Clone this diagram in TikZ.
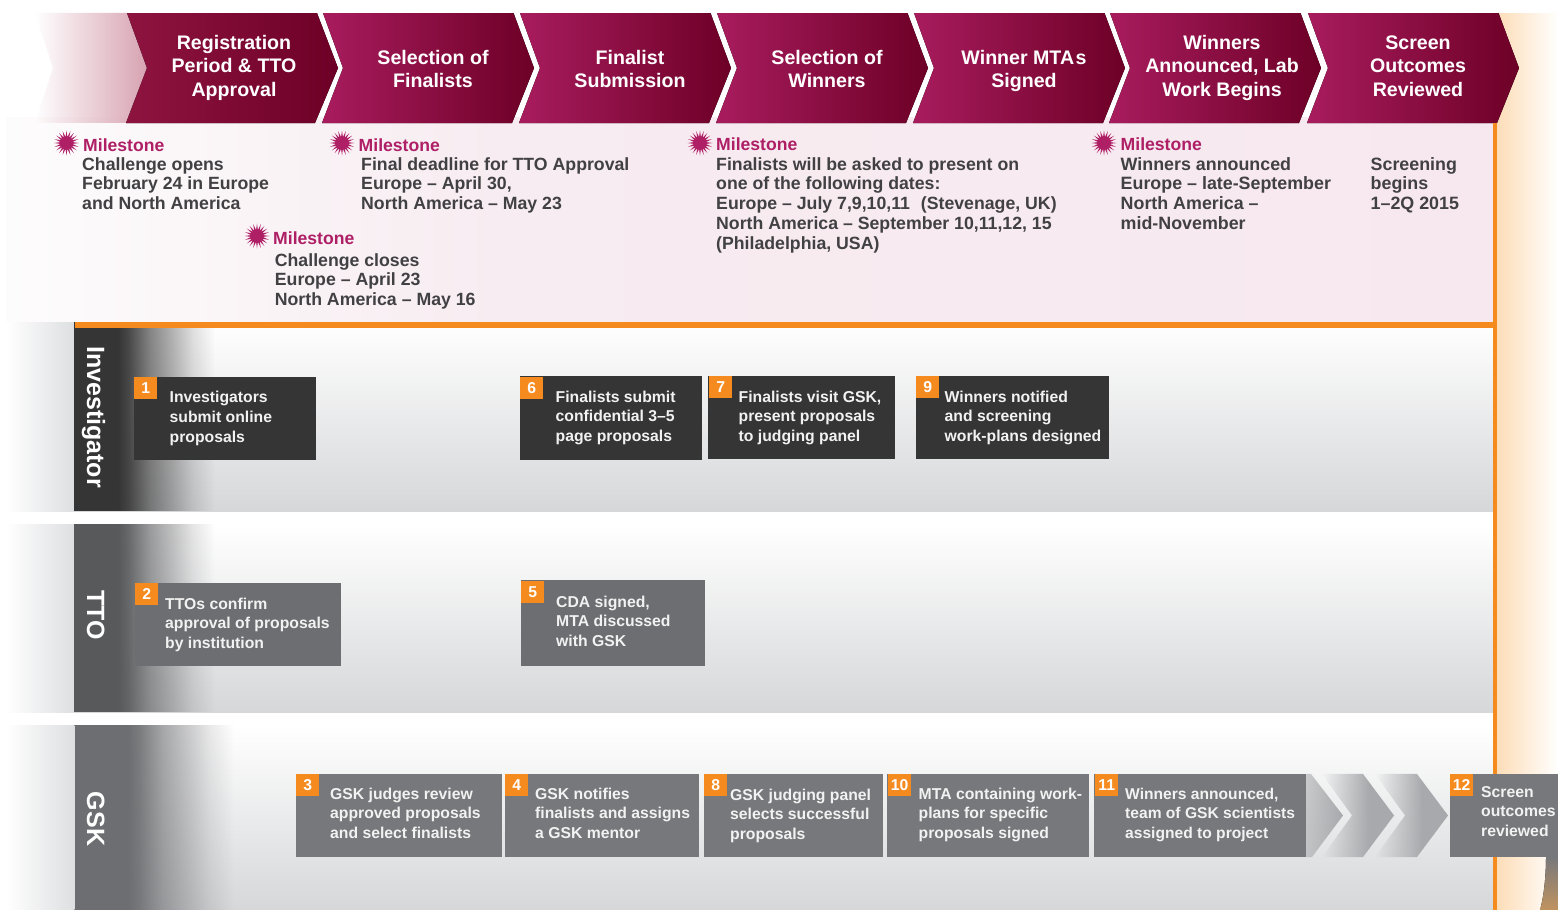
\documentclass[tikz,border=0pt]{standalone}
\usepackage{fontspec}
\setmainfont{Liberation Sans}
\usetikzlibrary{shapes.geometric,fadings}
\definecolor{mag}{HTML}{A81C5E}
\definecolor{mile}{HTML}{AE1F66}
\definecolor{wine}{HTML}{6D0026}
\definecolor{wineA}{HTML}{8E1440}
\definecolor{pinkband}{HTML}{F7E8EF}
\definecolor{pinkstart}{HTML}{FDFCFC}
\definecolor{pinkmid}{HTML}{F7ECF1}
\definecolor{fadechev}{HTML}{D8A3B2}
\definecolor{orng}{HTML}{F58A1F}
\definecolor{ink}{HTML}{414042}
\definecolor{dkA}{HTML}{353535}
\definecolor{dkB}{HTML}{58595B}
\definecolor{dkC}{HTML}{6D6E71}
\definecolor{boxB}{HTML}{6D6E71}
\definecolor{boxC}{HTML}{77787B}
\definecolor{stripe}{HTML}{DEDFE1}
\definecolor{rowlow}{HTML}{D6D7D9}
\definecolor{peach}{HTML}{FDDDB8}
\definecolor{arrowg}{HTML}{A7A9AC}
\definecolor{tan}{HTML}{C0935F}
\pgfdeclarehorizontalshading{rampshade}{100bp}{color(0bp)=(pgftransparent!0); color(25bp)=(pgftransparent!0); color(30bp)=(pgftransparent!10); color(40bp)=(pgftransparent!40); color(50bp)=(pgftransparent!62); color(60bp)=(pgftransparent!85); color(70bp)=(pgftransparent!100); color(100bp)=(pgftransparent!100)}
\pgfdeclarefading{bandfade}{\pgfuseshading{rampshade}}
\pgfdeclarehorizontalshading{rampB}{100bp}{color(0bp)=(pgftransparent!100); color(25bp)=(pgftransparent!100); color(57.5bp)=(pgftransparent!0); color(100bp)=(pgftransparent!0)}
\pgfdeclarefading{arrowfade}{\pgfuseshading{rampB}}
\pgfdeclarehorizontalshading{rampC}{100bp}{color(0bp)=(pgftransparent!100); color(25bp)=(pgftransparent!100); color(75bp)=(pgftransparent!0); color(100bp)=(pgftransparent!0)}
\pgfdeclarefading{chevfade}{\pgfuseshading{rampC}}
\pgfdeclarehorizontalshading{rampD}{100bp}{color(0bp)=(pgftransparent!45); color(25bp)=(pgftransparent!45); color(75bp)=(pgftransparent!0); color(100bp)=(pgftransparent!0)}
\pgfdeclarefading{firstfade}{\pgfuseshading{rampD}}
\tikzset{
  chev/.style={left color=mag,right color=wine,middle color=mag!50!wine,draw=none},
  chevtext/.style={text=white,font=\fontsize{19.6}{23.5}\selectfont\bfseries,align=center,inner sep=0pt,anchor=north,yshift=18pt},
  msT/.style={text=mile,font=\fontsize{17.6}{19.8}\selectfont\bfseries,anchor=base west,inner sep=0pt},
  msB/.style={text=ink,font=\fontsize{17.7}{19.7}\selectfont\bfseries,align=left,anchor=north west,inner sep=0pt,yshift=18pt},
  msBw/.style={msB,font=\fontsize{17.85}{19.7}\selectfont\bfseries},
  burst/.style={star,star points=20,star point ratio=2.1,fill=mile,draw=none,inner sep=0pt,minimum size=25pt,outer sep=0pt},
  boxt/.style={text=white!95!black,font=\fontsize{15.75}{19.7}\selectfont\bfseries,align=left,anchor=north west,inner sep=0pt,yshift=18pt},
  numsq/.style={fill=orng,text=white,font=\fontsize{15.75}{18}\selectfont\bfseries,inner sep=0pt,minimum width=23pt,minimum height=22pt,text height=11pt,text depth=1pt,anchor=north west},
  rowlabel/.style={text=white,font=\fontsize{25}{28}\selectfont\bfseries,rotate=-90,anchor=base,inner sep=0pt},
  rowbase/.style={top color=white,middle color=white!95!rowlow,bottom color=rowlow,draw=none},
  leftstrip/.style={left color=white,right color=stripe,draw=none},
  bandf/.style={path fading=bandfade,fit fading=true},
  ga/.style={fill=arrowg,path fading=arrowfade,fit fading=true}
}
\newcommand{\FL}{\rule{0pt}{18pt}}
\begin{document}
\begin{tikzpicture}[x=1pt,y=-1pt]
\useasboundingbox (0,0) rectangle (1558,910);
\fill[white] (0,0) rectangle (1558,910);
% right peach
\fill[left color=peach,right color=white,draw=none] (1497,13) rectangle (1558,910);
\fill[top color=boxC,bottom color=tan] (1546,857) .. controls (1546,880) and (1543,900) .. (1540,910) -- (1558,910) -- (1558,857) -- cycle;
% pink band
\fill[left color=pinkstart,right color=pinkmid,draw=none] (6,117) rectangle (500,322);
\fill[left color=pinkmid,right color=pinkband,draw=none] (499.5,117) rectangle (1493,322);
% fade chevron
\fill[fadechev,path fading=chevfade,fit fading=true] (35,13) -- (127,13) -- (147,68) -- (126,123) -- (35,123) -- (53,68) -- cycle;
% chevrons
\fill[left color=wineA,right color=wine,draw=none] (127,13) -- (317,13) -- (338,68) -- (315,123) -- (126,123) -- (147,68) -- cycle;
\foreach \x in {323,520,717,914,1110,1308}{
  \fill[chev] (\x,13) -- ({\x+190.5},13) -- ({\x+211},68) -- ({\x+189},123) -- ({\x-1},123) -- ({\x+20},68) -- cycle;
}
\node[chevtext] (c1) at (234,49) {\FL Registration\\Period \& TTO\\Approval};
\node[chevtext] (c2) at (433,64) {\FL Selection of\\Finalists};
\node[chevtext] (c3) at (630,64) {\FL Finalist\\Submission};
\node[chevtext] (c4) at (827,64) {\FL Selection of\\Winners};
\node[chevtext] (c5) at (1024,64) {\FL Winner MTA\kern1.5pt s\\Signed};
\node[chevtext] (c6) at (1222,49) {\FL Winners\\Announced, Lab\\Work Begins};
\node[chevtext] (c7) at (1418,49) {\FL Screen\\Outcomes\\Reviewed};
% rows
\fill[leftstrip] (6,322) rectangle (74,511);
\fill[leftstrip] (6,524) rectangle (74,712);
\fill[leftstrip] (6,725) rectangle (74.5,910);
\fill[rowbase] (74,322) rectangle (1493,511);
\fill[rowbase] (74,524) rectangle (1493,712);
\fill[rowbase] (75,725) rectangle (1493,910);
\fill[dkA] (74,322) rectangle (118.5,511);
\fill[dkA,bandf] (118,322) rectangle (225,511);
\fill[dkB] (74,524) rectangle (118.5,712);
\fill[dkB,bandf] (118,524) rectangle (225,712);
\fill[dkC] (75,725) rectangle (128.5,910);
\fill[dkC,bandf] (128,725) rectangle (245,910);
% orange rules
\fill[orng] (75,322) rectangle (1497,327.5);
\fill[orng] (1493,123) rectangle (1497,910);
% row labels
\node[rowlabel] (rI) at (87,417) {Investigator};
\node[rowlabel] (rT) at (87,615) {TTO};
\node[rowlabel] (rG) at (87,819) {GSK};
% milestones
\node[burst] (s1) at (66.5,143) {};
\node[burst] (s2) at (342,143) {};
\node[burst] (s3) at (700,143) {};
\node[burst] (s4) at (1104,143) {};
\node[burst] (s5) at (257,236) {};
\node[msT] (m1) at (83,151) {Milestone};
\node[msT] (m2) at (358.5,151) {Milestone};
\node[msT] (m3) at (716,150) {Milestone};
\node[msT] (m4) at (1120.5,150) {Milestone};
\node[msT] (m5) at (273,244.2) {Milestone};
\node[msB] (t1) at (82,170) {\FL Challenge opens\\February 24 in Europe\\and North America};
\node[msB] (t2) at (361,170) {\FL Final deadline for TTO Approval\\Europe – April 30,\\North America – May 23};
\node[msB] (t3) at (716,170) {\FL Finalists will be asked to present on\\one of the following dates:\\Europe – July 7,9,10,11\hspace{6pt} (Stevenage, UK)\\North America – September 10,11,12, 15\\(Philadelphia, USA)};
\node[msBw] (t4) at (1120.5,170) {\FL Winners announced\\Europe – late-September\\North America –\\mid-November};
\node[msBw] (t5) at (1370.5,170) {\FL Screening\\begins\\1–2Q 2015};
\node[msB] (t6) at (274.7,266) {\FL Challenge closes\\Europe – April 23\\North America – May 16};
% grey arrows
\fill[arrowg,path fading=firstfade,fit fading=true] (1306,774) -- (1311,774) -- (1343,815.5) -- (1312,857) -- (1306,857) -- cycle;
\fill[ga] (1322,774) -- (1363,774) -- (1394,815.5) -- (1363,857) -- (1322,857) -- (1352,815.5) -- cycle;
\fill[ga] (1375,774) -- (1417,774) -- (1448,815.5) -- (1417,857) -- (1375,857) -- (1405,815.5) -- cycle;
% process boxes
\fill[dkA] (134,377) rectangle (316,460);
\fill[dkA] (520,376) rectangle (702,460);
\fill[dkA] (708,376) rectangle (895,459);
\fill[dkA] (916,376) rectangle (1109,459);
\fill[boxB] (135,583) rectangle (341,666);
\fill[boxB] (521,580) rectangle (705,666);
\fill[boxC] (296,774) rectangle (502,857);
\fill[boxC] (505,774) rectangle (699,857);
\fill[boxC] (704,774) rectangle (883,857);
\fill[boxC] (887,774) rectangle (1089,857);
\fill[boxC] (1094,774) rectangle (1306,857);
\fill[boxC] (1450,774) rectangle (1558,857);
% numbers
\node[numsq] (n1) at (134,377) {1};
\node[numsq] (n6) at (520,377) {6};
\node[numsq] (n7) at (709,376) {7};
\node[numsq] (n9) at (916,376) {9};
\node[numsq] (n2) at (135,583) {2};
\node[numsq] (n5) at (521,581) {5};
\node[numsq] (n3) at (296,774) {3};
\node[numsq] (n4) at (505,774) {4};
\node[numsq] (n8) at (704,774) {8};
\node[numsq] (n10) at (888,774) {10};
\node[numsq] (n11) at (1095,774) {11};
\node[numsq] (n12) at (1450,774) {12};
% texts
\node[boxt] (b1) at (169.5,402.7) {\FL Investigators\\submit online\\proposals};
\node[boxt] (b6) at (555.5,401.8) {\FL Finalists submit\\confidential 3–5\\page proposals};
\node[boxt] (b7) at (738.5,401.8) {\FL Finalists visit GSK,\\present proposals\\to judging panel};
\node[boxt] (b9) at (944.5,401.8) {\FL Winners notified\\and screening\\work-plans designed};
\node[boxt] (b2) at (165,609) {\FL TTOs confirm\\approval of proposals\\by institution};
\node[boxt] (b5) at (556,607) {\FL CDA signed,\\MTA discussed\\with GSK};
\node[boxt] (b3) at (330,799) {\FL GSK judges review\\approved proposals\\and select finalists};
\node[boxt] (b4) at (535,799) {\FL GSK notifies\\finalists and assigns\\a GSK mentor};
\node[boxt] (b8) at (730,800) {\FL GSK judging panel\\selects successful\\proposals};
\node[boxt] (b10) at (918.5,799) {\FL MTA containing work-\\plans for specific\\proposals signed};
\node[boxt,font=\fontsize{15.6}{19.7}\selectfont\bfseries] (b11) at (1125,799) {\FL Winners announced,\\team of GSK scientists\\assigned to project};
\node[boxt] (b12) at (1481,797) {\FL Screen\\outcomes\\reviewed};
\end{tikzpicture}
\end{document}
